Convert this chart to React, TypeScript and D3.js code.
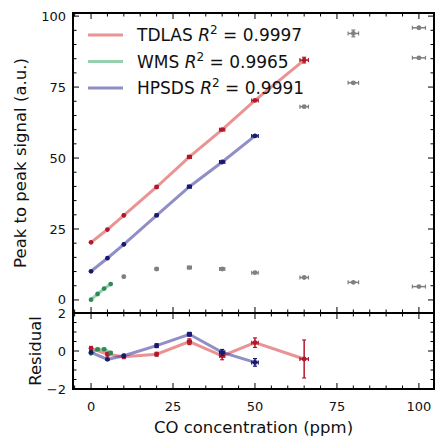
import React, { useEffect, useRef } from 'react';
import * as d3 from 'd3';

// concentrations (ppm) and signals
const tdlasX = [0, 5, 10, 20, 30, 40, 50, 65];
const tdlasY = [20.3, 24.8, 29.8, 39.8, 50.4, 60.0, 70.3, 84.5];
const tdlasXErr = [0, 0.1, 0.2, 0.4, 0.6, 0.8, 1.0, 1.3];
const tdlasYErr = [0.1, 0.1, 0.1, 0.1, 0.15, 0.2, 0.25, 1.0];
const tdlasRes = [0.14, -0.17, -0.3, -0.17, 0.49, -0.26, 0.44, -0.42];

const wmsX = [0, 2, 4, 6];
const wmsY = [0.1, 2.1, 4.0, 5.6];
const wmsXErr = [0, 0.04, 0.08, 0.12];
const wmsYErr = [0.05, 0.05, 0.05, 0.05];
const wmsRes = [-0.12, 0.09, 0.09, -0.1];

const hpsdsX = [0, 5, 10, 20, 30, 40, 50];
const hpsdsY = [10.1, 14.7, 19.6, 29.8, 39.9, 48.6, 57.8];
const hpsdsXErr = [0, 0.1, 0.2, 0.4, 0.6, 0.8, 1.0];
const hpsdsYErr = [0.05, 0.05, 0.05, 0.1, 0.1, 0.15, 0.2];
const hpsdsRes = [-0.07, -0.44, -0.25, 0.28, 0.88, -0.07, -0.6];

// points outside the linear range (grey)
const wmsOutX = [10, 20, 30, 40, 50, 65, 80, 100];
const wmsOutY = [8.2, 10.9, 11.4, 10.9, 9.6, 7.9, 6.2, 4.7];
const wmsOutXErr = [0.2, 0.4, 0.6, 0.8, 1.0, 1.3, 1.6, 2.0];
const hpsdsOutX = [65, 80, 100];
const hpsdsOutY = [68.1, 76.5, 85.3];
const hpsdsOutXErr = [1.3, 1.6, 2.0];
const tdlasOutX = [80, 100];
const tdlasOutY = [93.9, 95.9];
const tdlasOutXErr = [1.6, 2.0];
const tdlasOutYErr = [1.2, 0.3];

const xTicks = [0, 25, 50, 75, 100];
const yTicks = [0, 25, 50, 75, 100];
const resTicks = [-2, 0, 2];

const legendNames = ['TDLAS', 'WMS', 'HPSDS'];
const legendR2 = ['0.9997', '0.9965', '0.9991'];

const FONT = 'DejaVu Sans, sans-serif';

const App = () => {
    const svgRef = useRef(null);

    useEffect(() => {
        const svg = d3.select(svgRef.current);
        svg.selectAll('*').remove();

        const left = 73, right = 434, top = 13, mid = 313, bottom = 389;

        const x = d3.scaleLinear().domain([-5.5, 104.6]).range([left, right]);
        const y = d3.scaleLinear().domain([-4.6, 101.1]).range([mid, top]);
        const yr = d3.scaleLinear().domain([-2, 2]).range([bottom, mid]);

        const series = [
            { xs: tdlasX, ys: tdlasY, xe: tdlasXErr, ye: tdlasYErr, res: tdlasRes, line: '#d62728', mark: '#b2182b' },
            { xs: wmsX, ys: wmsY, xe: wmsXErr, ye: wmsYErr, res: wmsRes, line: '#2ca25f', mark: '#2e8b57' },
            { xs: hpsdsX, ys: hpsdsY, xe: hpsdsXErr, ye: hpsdsYErr, res: hpsdsRes, line: '#1f1f8c', mark: '#191970' },
        ];

        const grey = [
            { xs: wmsOutX, ys: wmsOutY, xe: wmsOutXErr, ye: wmsOutX.map(() => 0.2) },
            { xs: hpsdsOutX, ys: hpsdsOutY, xe: hpsdsOutXErr, ye: hpsdsOutX.map(() => 0.3) },
            { xs: tdlasOutX, ys: tdlasOutY, xe: tdlasOutXErr, ye: tdlasOutYErr },
        ];

        const line = d3.line();

        // error bar + marker
        const drawPoint = (g, px, py, x0, x1, y0, y1, color) => {
            const cap = 2;
            g.append('line').attr('x1', x0).attr('x2', x1).attr('y1', py).attr('y2', py)
                .attr('stroke', color).attr('stroke-width', 1.5);
            g.append('line').attr('x1', px).attr('x2', px).attr('y1', y0).attr('y2', y1)
                .attr('stroke', color).attr('stroke-width', 1.5);
            if (x1 - x0 > 1) {
                [x0, x1].forEach(cx => g.append('line').attr('x1', cx).attr('x2', cx)
                    .attr('y1', py - cap).attr('y2', py + cap).attr('stroke', color).attr('stroke-width', 1.2));
            }
            if (y0 - y1 > 1) {
                [y0, y1].forEach(cy => g.append('line').attr('x1', px - cap).attr('x2', px + cap)
                    .attr('y1', cy).attr('y2', cy).attr('stroke', color).attr('stroke-width', 1.2));
            }
            g.append('circle').attr('cx', px).attr('cy', py).attr('r', 2.4).attr('fill', color);
        };

        const topG = svg.append('g');
        const resG = svg.append('g');

        // grey out-of-range points
        grey.forEach(s => {
            s.xs.forEach((v, i) => {
                drawPoint(topG, x(v), y(s.ys[i]), x(v - s.xe[i]), x(v + s.xe[i]),
                    y(s.ys[i] - s.ye[i]), y(s.ys[i] + s.ye[i]), '#808080');
            });
        });

        series.forEach(s => {
            topG.append('path')
                .attr('d', line(s.xs.map((v, i) => [x(v), y(s.ys[i])])))
                .attr('fill', 'none').attr('stroke', s.line).attr('stroke-opacity', 0.5)
                .attr('stroke-width', 3);
            resG.append('path')
                .attr('d', line(s.xs.map((v, i) => [x(v), yr(s.res[i])])))
                .attr('fill', 'none').attr('stroke', s.line).attr('stroke-opacity', 0.5)
                .attr('stroke-width', 3);
        });

        series.forEach(s => {
            s.xs.forEach((v, i) => {
                drawPoint(topG, x(v), y(s.ys[i]), x(v - s.xe[i]), x(v + s.xe[i]),
                    y(s.ys[i] - s.ye[i]), y(s.ys[i] + s.ye[i]), s.mark);
                drawPoint(resG, x(v), yr(s.res[i]), x(v - s.xe[i]), x(v + s.xe[i]),
                    yr(s.res[i] - s.ye[i]), yr(s.res[i] + s.ye[i]), s.mark);
            });
        });

        // ticks on all four sides, pointing inward
        const ticks = svg.append('g').attr('stroke', 'black').attr('stroke-width', 1);
        const xMinor = d3.range(-5, 105, 5);
        const drawXTicks = (yy, dir) => {
            xMinor.forEach(v => {
                const len = v % 25 === 0 ? 6 : 3.5;
                ticks.append('line').attr('x1', x(v)).attr('x2', x(v))
                    .attr('y1', yy).attr('y2', yy + dir * len);
            });
        };
        drawXTicks(top, 1);
        drawXTicks(mid, -1);
        drawXTicks(mid, 1);
        drawXTicks(bottom, -1);

        d3.range(0, 105, 5).forEach(v => {
            const len = v % 25 === 0 ? 6 : 3.5;
            ticks.append('line').attr('x1', left).attr('x2', left + len).attr('y1', y(v)).attr('y2', y(v));
            ticks.append('line').attr('x1', right).attr('x2', right - len).attr('y1', y(v)).attr('y2', y(v));
        });
        d3.range(-2, 2.01, 0.5).forEach(v => {
            const len = v % 2 === 0 ? 6 : 3.5;
            ticks.append('line').attr('x1', left).attr('x2', left + len).attr('y1', yr(v)).attr('y2', yr(v));
            ticks.append('line').attr('x1', right).attr('x2', right - len).attr('y1', yr(v)).attr('y2', yr(v));
        });

        // frames
        svg.append('rect').attr('x', left).attr('y', top).attr('width', right - left).attr('height', mid - top)
            .attr('fill', 'none').attr('stroke', 'black').attr('stroke-width', 2);
        svg.append('rect').attr('x', left).attr('y', mid).attr('width', right - left).attr('height', bottom - mid)
            .attr('fill', 'none').attr('stroke', 'black').attr('stroke-width', 2);

        // tick labels
        const labels = svg.append('g').attr('font-family', FONT).attr('font-size', 13).attr('fill', '#111');
        xTicks.forEach(v => labels.append('text').attr('x', x(v)).attr('y', 411)
            .attr('text-anchor', 'middle').text(v));
        yTicks.forEach(v => labels.append('text').attr('x', 66).attr('y', y(v)).attr('dy', '0.35em')
            .attr('text-anchor', 'end').text(v));
        resTicks.forEach(v => labels.append('text').attr('x', 66).attr('y', yr(v)).attr('dy', '0.35em')
            .attr('text-anchor', 'end').text(v < 0 ? `\u2212${-v}` : v));

        // axis titles
        svg.append('text').attr('x', (left + right) / 2).attr('y', 433)
            .attr('text-anchor', 'middle').attr('font-family', FONT).attr('font-size', 16.5)
            .attr('fill', '#111').text('CO concentration (ppm)');
        svg.append('text').attr('transform', `translate(26,${(top + mid) / 2}) rotate(-90)`)
            .attr('text-anchor', 'middle').attr('font-family', FONT).attr('font-size', 16.5)
            .attr('fill', '#111').text('Peak to peak signal (a.u.)');
        svg.append('text').attr('transform', `translate(41,${(mid + bottom) / 2}) rotate(-90)`)
            .attr('text-anchor', 'middle').attr('font-family', FONT).attr('font-size', 16.5)
            .attr('fill', '#111').text('Residual');

        // legend
        legendNames.forEach((name, i) => {
            const ly = 35 + i * 26.5;
            svg.append('line').attr('x1', 88).attr('x2', 123).attr('y1', ly).attr('y2', ly)
                .attr('stroke', series[i].line).attr('stroke-opacity', 0.5).attr('stroke-width', 3);
            const t = svg.append('text').attr('x', 137).attr('y', ly + 6)
                .attr('font-family', FONT).attr('font-size', 17).attr('fill', '#111');
            t.append('tspan').text(`${name} `);
            t.append('tspan').attr('font-style', 'italic').text('R');
            t.append('tspan').attr('font-size', 12).attr('dy', -7).text('2');
            t.append('tspan').attr('dy', 7).text(` = ${legendR2[i]}`);
        });
    }, []);

    return (
        <svg ref={svgRef} width="438" height="436"
            style={{ position: 'absolute', left: 0, top: 0, background: 'white' }}></svg>
    );
};

export default App;
